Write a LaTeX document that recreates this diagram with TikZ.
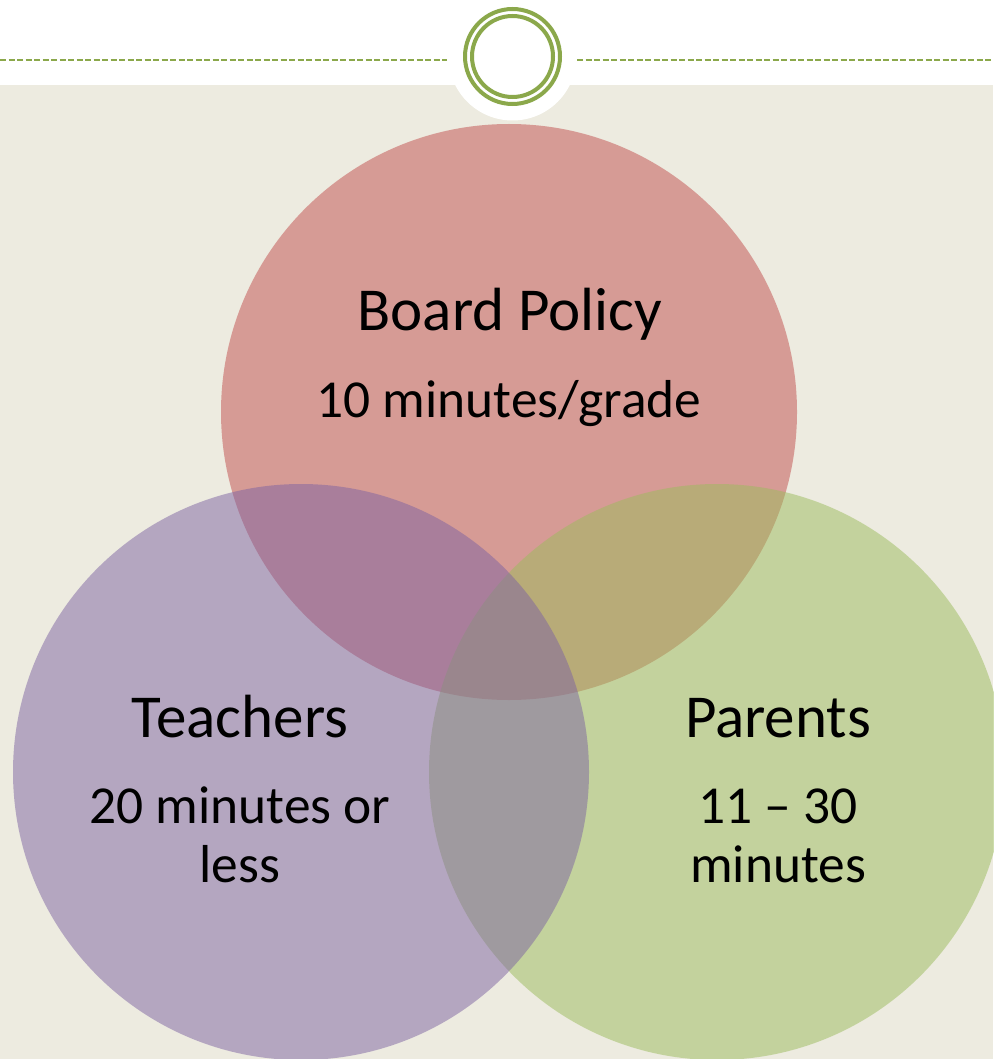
\documentclass[tikz,border=0pt]{standalone}
\usepackage{fontspec}
\setmainfont{Carlito}
\definecolor{bgbeige}{RGB}{237,235,224}
\definecolor{ringgreen}{RGB}{139,168,75}
\definecolor{cred}{RGB}{193,77,76}
\definecolor{cgreen}{RGB}{155,187,92}
\definecolor{cpurple}{RGB}{125,99,162}
\tikzset{
  venn/.style={circle, minimum size=576pt, inner sep=0pt, fill opacity=0.5, draw=none},
  ttl/.style={font=\fontsize{61}{70}\selectfont, text=black, align=center},
  body/.style={font=\fontsize{53.4}{59}\selectfont, text=black, align=center},
  dashline/.style={draw=ringgreen, line width=2pt, dash pattern=on 6pt off 2.5pt},
  ring/.style={draw=ringgreen, line width=4pt},
}
\begin{document}
\begin{tikzpicture}[x=1pt,y=-1pt]
\useasboundingbox (0,0) rectangle (993,1059);
\fill[white] (0,0) rectangle (993,1059);
\fill[bgbeige] (0,85) rectangle (993,1059);
\fill[white] (512.5,56.5) circle (64);
\coordinate (l0) at (0,60); \coordinate (l1) at (447,60);
\coordinate (r0) at (577,60); \coordinate (r1) at (993,60);
\draw[dashline] (l0) -- (l1);
\draw[dashline] (r0) -- (r1);
\node[circle, ring, minimum size=95pt, inner sep=0pt] (outer) at (512.5,56.5) {};
\node[circle, ring, minimum size=81pt, inner sep=0pt] (inner) at (512.5,56.5) {};
\node[venn, fill=cred] (board) at (509,412) {};
\node[venn, fill=cgreen] (parents) at (717,772) {};
\node[venn, fill=cpurple] (teachers) at (301,772) {};
\node[ttl, anchor=base] (bt) at (510,330) {Board Policy};
\node[body, anchor=base] (bb) at (509,417) {10 minutes/grade};
\node[ttl, anchor=base] (tt) at (240,737) {Teachers};
\node[body, anchor=base] (tb) at (240,882) {20 minutes or\\less};
\node[ttl, anchor=base] (pt) at (778,737) {Parents};
\node[body, anchor=base] (pb) at (778,882) {11 – 30\\minutes};
\end{tikzpicture}
\end{document}
